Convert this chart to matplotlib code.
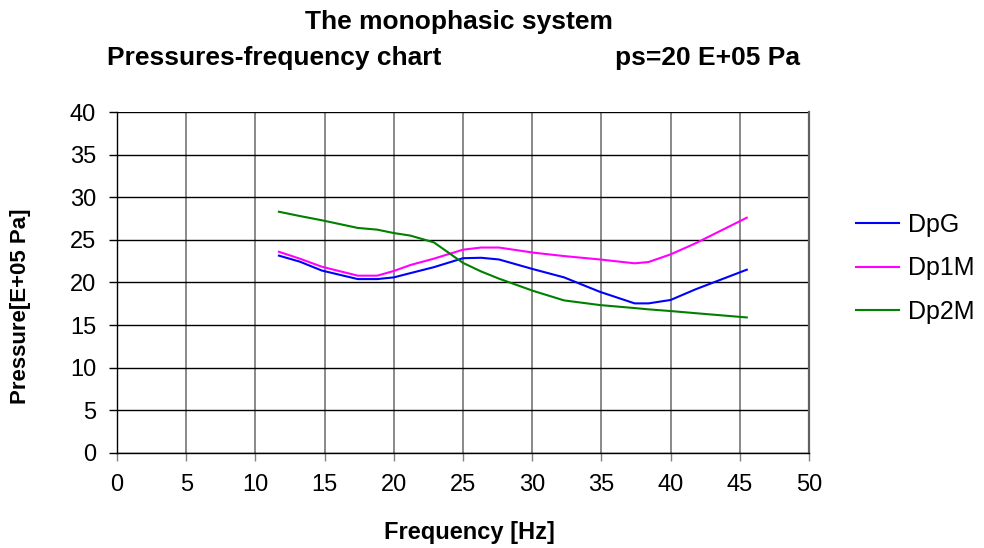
import matplotlib.pyplot as plt

plt.rcParams['font.family'] = ['Liberation Sans', 'DejaVu Sans']

# frequency [Hz]
freq = [11.7, 13.2, 14.8, 17.4, 18.8, 20.0, 21.2, 22.9, 25.0, 26.3,
        27.6, 30.1, 32.3, 34.9, 37.4, 38.4, 40.0, 41.8, 45.5]

# pressures [E+05 Pa]
dpg = [23.15, 22.45, 21.4, 20.4, 20.4, 20.6, 21.1, 21.8, 22.85, 22.9,
       22.7, 21.55, 20.6, 18.9, 17.55, 17.55, 17.95, 19.2, 21.5]
dp1m = [23.6, 22.8, 21.85, 20.8, 20.8, 21.35, 22.05, 22.8, 23.85, 24.1,
        24.1, 23.5, 23.1, 22.7, 22.25, 22.4, 23.3, 24.6, 27.6]
dp2m = [28.3, 27.8, 27.3, 26.4, 26.2, 25.8, 25.5, 24.7, 22.3, 21.3,
        20.45, 19.0, 17.9, 17.35, 17.0, 16.85, 16.65, 16.4, 15.9]

series = [('DpG', dpg, '#0000ff'), ('Dp1M', dp1m, '#ff00ff'), ('Dp2M', dp2m, '#008000')]

fig = plt.figure(figsize=(9.84, 5.48), dpi=100)
ax = fig.add_axes([0.1189, 0.1734, 0.7033, 0.6222])

for name, vals, col in series:
    ax.plot(freq, vals, color=col, lw=1.5, label=name)

ax.set_xlim(0, 50)
ax.set_ylim(0, 40)
ax.set_xticks(range(0, 51, 5))
ax.set_yticks(range(0, 41, 5))

# grid: grey verticals, black horizontals
ax.xaxis.grid(True, color='#808080', lw=1.3)
ax.yaxis.grid(True, color='black', lw=1.0)
ax.set_axisbelow(True)

ax.spines['top'].set_visible(False)
ax.spines['right'].set_color('#606060')
ax.spines['right'].set_linewidth(1.6)
ax.spines['left'].set_linewidth(1.0)
ax.spines['bottom'].set_linewidth(1.0)
ax.tick_params(axis='y', length=6, width=1, color='black', labelsize=17, pad=9)
ax.tick_params(axis='x', length=6, width=1, color='#808080', labelsize=17, pad=9)

fig.text(0.4766, 0.0164, 'Frequency [Hz]', ha='center', va='baseline',
         fontsize=17, fontweight='bold')
fig.text(0.0213, 0.4407, 'Pressure[E+05 Pa]', ha='center', va='center',
         rotation=90, fontsize=16, fontweight='bold')

fig.text(0.4665, 0.947, 'The monophasic system', ha='center', va='baseline',
         fontsize=19, fontweight='bold')
fig.text(0.1087, 0.881, 'Pressures-frequency chart', ha='left', va='baseline',
         fontsize=19, fontweight='bold')
fig.text(0.625, 0.881, 'ps=20 E+05 Pa', ha='left', va='baseline',
         fontsize=19, fontweight='bold')

ax.legend(loc='upper left', bbox_to_anchor=(1.035, 0.771), frameon=False,
          fontsize=18, handlelength=1.72, handletextpad=0.36, labelspacing=0.79)

fig.savefig('out.png', dpi=100)
